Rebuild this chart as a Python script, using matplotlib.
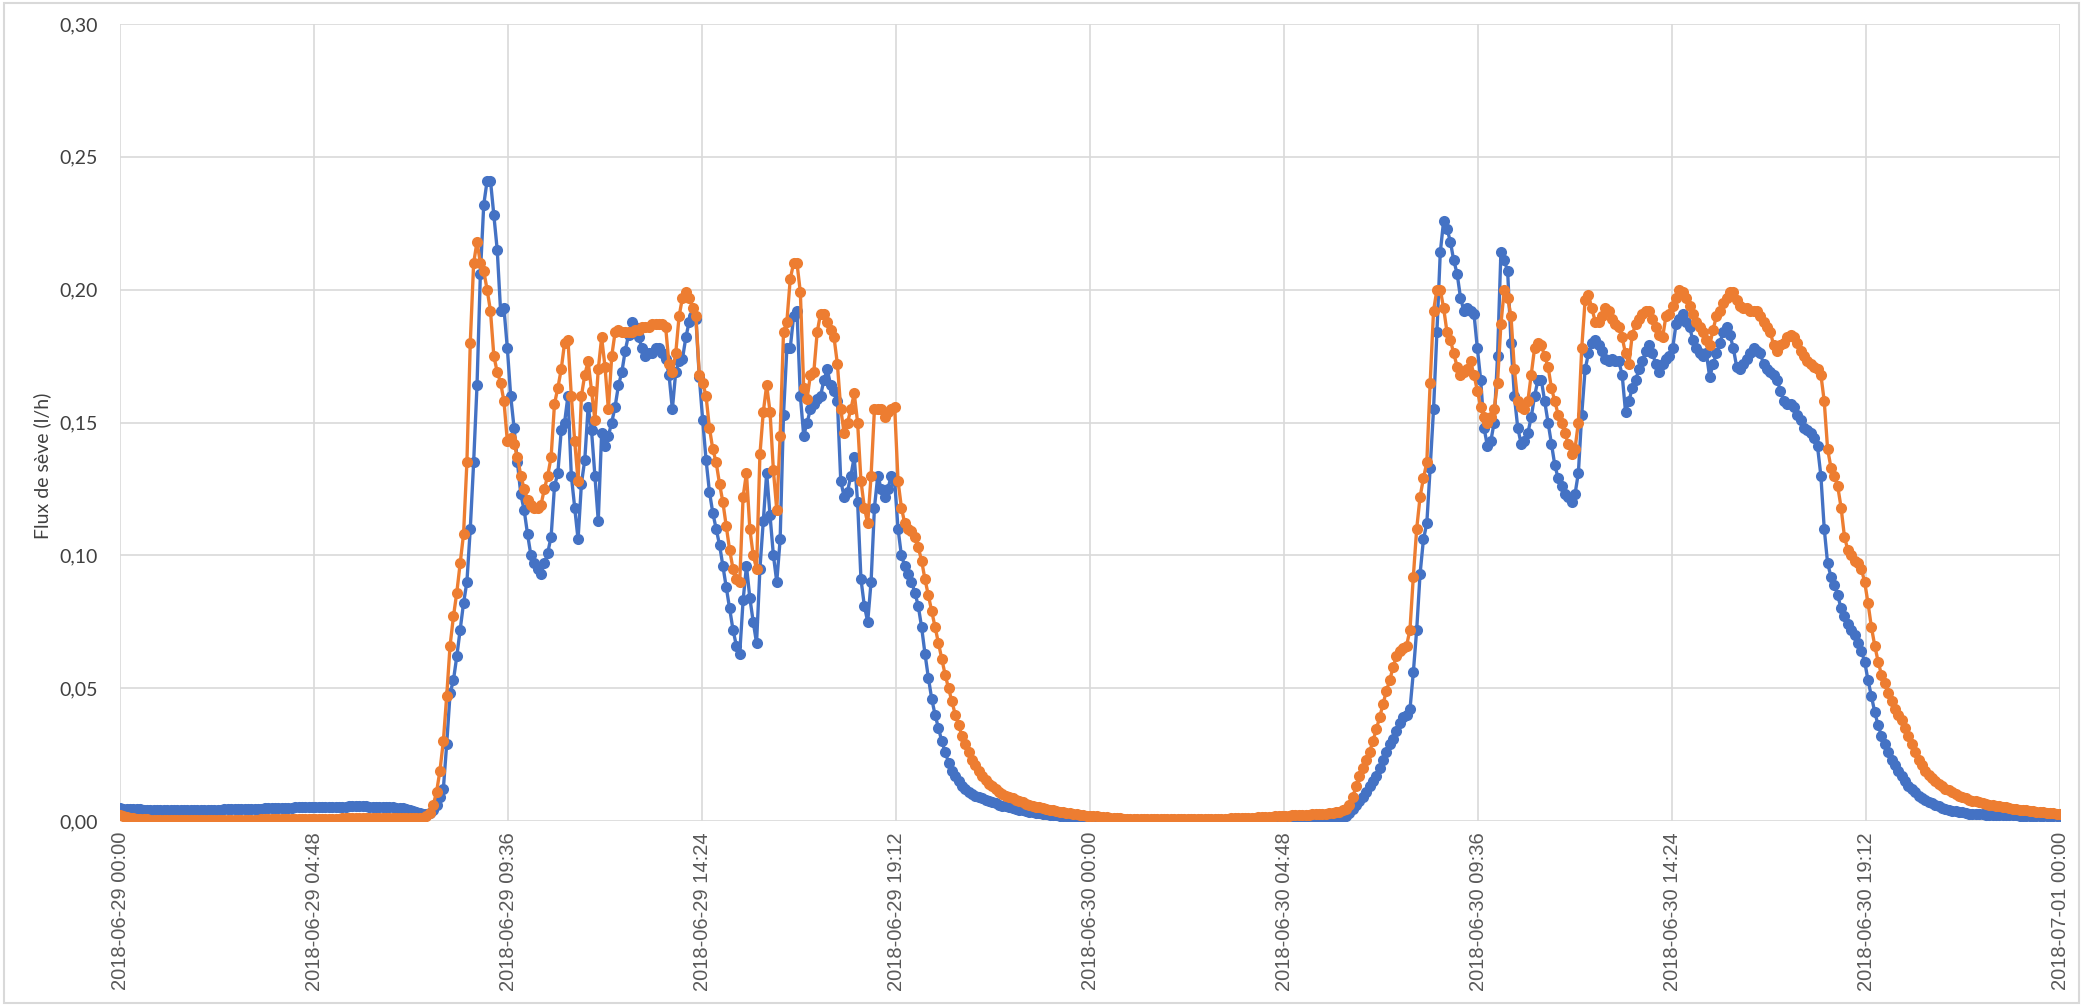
import pandas as pd
import matplotlib
matplotlib.use("Agg")
import matplotlib.pyplot as plt
import matplotlib.dates as mdates
from matplotlib.ticker import FixedLocator, FuncFormatter
from matplotlib.patches import Rectangle

# sap flow readings, one every 5 min from 2018-06-29 00:00 to 2018-07-01 00:00
# (12 values per line = one hour)
start = "2018-06-29 00:00"
end = "2018-07-01 00:00"
step = "5min"

blue_flux = [
    0.0048, 0.0047, 0.0046, 0.0045, 0.0045, 0.0044, 0.0044, 0.0043, 0.0043, 0.0042, 0.0042, 0.0041,  # 00h
    0.0041, 0.0041, 0.0040, 0.0040, 0.0040, 0.0040, 0.0040, 0.0040, 0.0041, 0.0041, 0.0041, 0.0041,
    0.0041, 0.0042, 0.0042, 0.0042, 0.0043, 0.0043, 0.0043, 0.0044, 0.0044, 0.0044, 0.0045, 0.0045,
    0.0045, 0.0046, 0.0046, 0.0046, 0.0047, 0.0047, 0.0047, 0.0048, 0.0048, 0.0048, 0.0049, 0.0049,
    0.0049, 0.0050, 0.0050, 0.0050, 0.0051, 0.0051, 0.0051, 0.0052, 0.0052, 0.0052, 0.0052, 0.0053,
    0.0053, 0.0053, 0.0053, 0.0054, 0.0054, 0.0054, 0.0054, 0.0054, 0.0055, 0.0055, 0.0055, 0.0055,
    0.0055, 0.0055, 0.0054, 0.0054, 0.0054, 0.0053, 0.0053, 0.0052, 0.0052, 0.0051, 0.0050, 0.0049,
    0.0048, 0.0046, 0.0043, 0.0039, 0.0035, 0.0031, 0.0028, 0.0027, 0.0030, 0.0040, 0.0060, 0.0090,
    0.012, 0.029, 0.048, 0.053, 0.062, 0.072, 0.082, 0.090, 0.110, 0.135, 0.164, 0.206,  # 08h
    0.232, 0.241, 0.241, 0.228, 0.215, 0.192, 0.193, 0.178, 0.160, 0.148, 0.135, 0.123,
    0.117, 0.108, 0.100, 0.097, 0.095, 0.093, 0.097, 0.101, 0.107, 0.126, 0.131, 0.147,
    0.150, 0.160, 0.130, 0.118, 0.106, 0.127, 0.136, 0.156, 0.147, 0.130, 0.113, 0.146,
    0.141, 0.145, 0.150, 0.156, 0.164, 0.169, 0.177, 0.183, 0.188, 0.186, 0.182, 0.178,  # 12h
    0.175, 0.176, 0.176, 0.178, 0.178, 0.176, 0.174, 0.168, 0.155, 0.169, 0.173, 0.174,
    0.182, 0.188, 0.190, 0.189, 0.167, 0.151, 0.136, 0.124, 0.116, 0.110, 0.104, 0.096,
    0.088, 0.080, 0.072, 0.066, 0.063, 0.083, 0.096, 0.084, 0.075, 0.067, 0.095, 0.113,
    0.131, 0.115, 0.100, 0.090, 0.106, 0.153, 0.178, 0.178, 0.190, 0.192, 0.160, 0.145,  # 16h
    0.150, 0.155, 0.157, 0.159, 0.160, 0.166, 0.170, 0.164, 0.162, 0.158, 0.128, 0.122,
    0.124, 0.130, 0.137, 0.120, 0.091, 0.081, 0.075, 0.090, 0.118, 0.130, 0.125, 0.122,
    0.125, 0.130, 0.128, 0.110, 0.100, 0.096, 0.093, 0.090, 0.086, 0.081, 0.073, 0.063,
    0.054, 0.046, 0.040, 0.035, 0.030, 0.026, 0.022, 0.019, 0.017, 0.015, 0.013, 0.012,  # 20h
    0.0110, 0.0100, 0.0095, 0.0090, 0.0085, 0.0080, 0.0075, 0.0070, 0.0066, 0.0062, 0.0058, 0.0055,
    0.0052, 0.0049, 0.0046, 0.0043, 0.0040, 0.0038, 0.0035, 0.0033, 0.0031, 0.0029, 0.0027, 0.0025,
    0.0024, 0.0022, 0.0021, 0.0020, 0.0018, 0.0017, 0.0016, 0.0015, 0.0014, 0.0013, 0.0012, 0.0011,
    0.0011, 0.0010, 0.0009, 0.0008, 0.0008, 0.0007, 0.0006, 0.0006, 0.0005, 0.0005, 0.0005, 0.0004,  # 30/06 00h
    0.0004, 0.0004, 0.0004, 0.0004, 0.0004, 0.0004, 0.0004, 0.0004, 0.0004, 0.0004, 0.0004, 0.0004,
    0.0003, 0.0003, 0.0003, 0.0003, 0.0003, 0.0003, 0.0003, 0.0003, 0.0003, 0.0003, 0.0003, 0.0003,
    0.0003, 0.0003, 0.0003, 0.0003, 0.0003, 0.0003, 0.0003, 0.0003, 0.0003, 0.0003, 0.0003, 0.0003,
    0.0003, 0.0003, 0.0003, 0.0003, 0.0003, 0.0003, 0.0004, 0.0004, 0.0004, 0.0004, 0.0004, 0.0004,
    0.0004, 0.0004, 0.0005, 0.0005, 0.0005, 0.0006, 0.0006, 0.0006, 0.0007, 0.0007, 0.0007, 0.0008,
    0.0008, 0.0010, 0.0012, 0.0015, 0.0020, 0.0030, 0.0045, 0.0060, 0.0075, 0.0090, 0.0110, 0.0130,
    0.015, 0.017, 0.020, 0.023, 0.026, 0.029, 0.031, 0.034, 0.037, 0.039, 0.040, 0.042,
    0.056, 0.072, 0.093, 0.106, 0.112, 0.133, 0.155, 0.184, 0.214, 0.226, 0.223, 0.218,  # 08h
    0.211, 0.206, 0.197, 0.192, 0.193, 0.192, 0.191, 0.178, 0.166, 0.148, 0.141, 0.143,
    0.150, 0.175, 0.214, 0.211, 0.207, 0.180, 0.160, 0.148, 0.142, 0.143, 0.146, 0.152,
    0.160, 0.166, 0.166, 0.158, 0.150, 0.142, 0.134, 0.129, 0.126, 0.123, 0.122, 0.120,
    0.123, 0.131, 0.153, 0.170, 0.176, 0.180, 0.181, 0.179, 0.177, 0.174, 0.173, 0.174,  # 12h
    0.173, 0.173, 0.168, 0.154, 0.158, 0.163, 0.166, 0.170, 0.173, 0.177, 0.179, 0.176,
    0.172, 0.169, 0.172, 0.174, 0.175, 0.178, 0.187, 0.189, 0.191, 0.188, 0.186, 0.181,
    0.178, 0.176, 0.175, 0.176, 0.167, 0.172, 0.176, 0.180, 0.184, 0.186, 0.183, 0.178,
    0.171, 0.170, 0.172, 0.174, 0.176, 0.178, 0.177, 0.176, 0.172, 0.170, 0.169, 0.168,  # 16h
    0.166, 0.162, 0.158, 0.157, 0.157, 0.156, 0.153, 0.151, 0.148, 0.147, 0.146, 0.144,
    0.141, 0.130, 0.110, 0.097, 0.092, 0.089, 0.085, 0.080, 0.077, 0.074, 0.072, 0.070,
    0.067, 0.064, 0.060, 0.053, 0.047, 0.041, 0.036, 0.032, 0.029, 0.026, 0.023, 0.021,
    0.0190, 0.0170, 0.0150, 0.0130, 0.0120, 0.0110, 0.0095, 0.0085, 0.0078, 0.0072, 0.0066, 0.0060,  # 20h
    0.0055, 0.0050, 0.0046, 0.0042, 0.0039, 0.0036, 0.0034, 0.0032, 0.0030, 0.0028, 0.0027, 0.0026,
    0.0025, 0.0025, 0.0024, 0.0024, 0.0023, 0.0023, 0.0022, 0.0022, 0.0022, 0.0021, 0.0021, 0.0021,
    0.0020, 0.0020, 0.0020, 0.0020, 0.0019, 0.0019, 0.0019, 0.0019, 0.0018, 0.0018, 0.0018, 0.0018,
    0.0018,
]

orange_flux = [
    0.0022, 0.0019, 0.0016, 0.0013, 0.0011, 0.0009, 0.0008, 0.0007, 0.0006, 0.0005, 0.0005, 0.0004,  # 00h
    0.0004, 0.0004, 0.0004, 0.0004, 0.0003, 0.0003, 0.0003, 0.0003, 0.0003, 0.0003, 0.0003, 0.0003,
    0.0003, 0.0003, 0.0003, 0.0004, 0.0004, 0.0004, 0.0004, 0.0004, 0.0004, 0.0004, 0.0005, 0.0005,
    0.0005, 0.0005, 0.0005, 0.0005, 0.0005, 0.0005, 0.0006, 0.0006, 0.0006, 0.0006, 0.0006, 0.0006,
    0.0007, 0.0007, 0.0007, 0.0007, 0.0007, 0.0007, 0.0008, 0.0008, 0.0008, 0.0008, 0.0008, 0.0008,
    0.0009, 0.0009, 0.0009, 0.0009, 0.0009, 0.0009, 0.0010, 0.0010, 0.0010, 0.0010, 0.0010, 0.0010,
    0.0011, 0.0011, 0.0011, 0.0011, 0.0011, 0.0011, 0.0012, 0.0012, 0.0012, 0.0012, 0.0012, 0.0012,
    0.0012, 0.0012, 0.0011, 0.0010, 0.0010, 0.0011, 0.0013, 0.0018, 0.0030, 0.0060, 0.0110, 0.0190,
    0.030, 0.047, 0.066, 0.077, 0.086, 0.097, 0.108, 0.135, 0.180, 0.210, 0.218, 0.210,  # 08h
    0.207, 0.200, 0.192, 0.175, 0.169, 0.165, 0.158, 0.143, 0.144, 0.142, 0.137, 0.130,
    0.125, 0.121, 0.119, 0.118, 0.118, 0.119, 0.125, 0.130, 0.137, 0.157, 0.163, 0.170,
    0.180, 0.181, 0.160, 0.143, 0.128, 0.160, 0.168, 0.173, 0.162, 0.151, 0.170, 0.182,
    0.171, 0.155, 0.175, 0.184, 0.185, 0.184, 0.184, 0.184, 0.184, 0.185, 0.185, 0.186,  # 12h
    0.186, 0.186, 0.187, 0.187, 0.187, 0.187, 0.186, 0.172, 0.169, 0.176, 0.190, 0.197,
    0.199, 0.197, 0.193, 0.190, 0.168, 0.165, 0.160, 0.148, 0.140, 0.135, 0.127, 0.120,
    0.111, 0.102, 0.095, 0.091, 0.090, 0.122, 0.131, 0.110, 0.100, 0.095, 0.138, 0.154,
    0.164, 0.154, 0.132, 0.117, 0.145, 0.184, 0.188, 0.204, 0.210, 0.210, 0.199, 0.163,  # 16h
    0.159, 0.168, 0.169, 0.184, 0.191, 0.191, 0.188, 0.185, 0.182, 0.172, 0.155, 0.146,
    0.150, 0.155, 0.161, 0.150, 0.128, 0.118, 0.112, 0.130, 0.155, 0.155, 0.155, 0.152,
    0.154, 0.155, 0.156, 0.128, 0.118, 0.112, 0.110, 0.109, 0.107, 0.103, 0.098, 0.091,
    0.085, 0.079, 0.073, 0.067, 0.061, 0.055, 0.050, 0.045, 0.040, 0.036, 0.032, 0.029,  # 20h
    0.0260, 0.0230, 0.0210, 0.0190, 0.0170, 0.0155, 0.0140, 0.0130, 0.0120, 0.0110, 0.0100, 0.0095,
    0.0090, 0.0085, 0.0080, 0.0075, 0.0070, 0.0065, 0.0060, 0.0057, 0.0054, 0.0051, 0.0048, 0.0045,
    0.0042, 0.0040, 0.0037, 0.0035, 0.0033, 0.0031, 0.0029, 0.0027, 0.0025, 0.0023, 0.0022, 0.0020,
    0.0019, 0.0018, 0.0017, 0.0016, 0.0015, 0.0014, 0.0013, 0.0012, 0.0011, 0.0010, 0.0009, 0.0009,  # 30/06 00h
    0.0008, 0.0008, 0.0008, 0.0007, 0.0007, 0.0007, 0.0007, 0.0006, 0.0006, 0.0006, 0.0006, 0.0006,
    0.0006, 0.0006, 0.0006, 0.0006, 0.0006, 0.0007, 0.0007, 0.0007, 0.0007, 0.0007, 0.0007, 0.0008,
    0.0008, 0.0008, 0.0008, 0.0009, 0.0009, 0.0009, 0.0010, 0.0010, 0.0010, 0.0011, 0.0011, 0.0012,
    0.0013, 0.0013, 0.0014, 0.0014, 0.0015, 0.0016, 0.0016, 0.0017, 0.0018, 0.0018, 0.0019, 0.0020,
    0.0021, 0.0021, 0.0022, 0.0023, 0.0023, 0.0024, 0.0025, 0.0025, 0.0026, 0.0027, 0.0028, 0.0029,
    0.0030, 0.0032, 0.0035, 0.0040, 0.0045, 0.0060, 0.0090, 0.0130, 0.0170, 0.0200, 0.0230, 0.0260,
    0.030, 0.0345, 0.039, 0.044, 0.049, 0.053, 0.058, 0.062, 0.064, 0.065, 0.066, 0.072,
    0.092, 0.110, 0.122, 0.129, 0.135, 0.165, 0.192, 0.200, 0.200, 0.193, 0.184, 0.181,  # 08h
    0.176, 0.171, 0.168, 0.169, 0.170, 0.173, 0.168, 0.162, 0.156, 0.152, 0.150, 0.152,
    0.155, 0.165, 0.187, 0.200, 0.197, 0.190, 0.170, 0.158, 0.156, 0.155, 0.158, 0.168,
    0.178, 0.180, 0.179, 0.175, 0.171, 0.163, 0.158, 0.153, 0.150, 0.146, 0.142, 0.138,
    0.140, 0.150, 0.178, 0.196, 0.198, 0.193, 0.188, 0.188, 0.190, 0.193, 0.192, 0.189,  # 12h
    0.187, 0.186, 0.182, 0.176, 0.172, 0.183, 0.187, 0.189, 0.191, 0.192, 0.192, 0.189,
    0.186, 0.183, 0.182, 0.190, 0.191, 0.194, 0.197, 0.200, 0.199, 0.197, 0.194, 0.191,
    0.188, 0.186, 0.184, 0.181, 0.179, 0.185, 0.190, 0.192, 0.195, 0.197, 0.199, 0.199,
    0.196, 0.194, 0.193, 0.193, 0.192, 0.192, 0.192, 0.190, 0.188, 0.186, 0.184, 0.179,  # 16h
    0.177, 0.179, 0.180, 0.182, 0.183, 0.182, 0.180, 0.177, 0.175, 0.173, 0.172, 0.171,
    0.170, 0.168, 0.158, 0.140, 0.133, 0.130, 0.126, 0.118, 0.107, 0.102, 0.100, 0.098,
    0.097, 0.095, 0.090, 0.082, 0.073, 0.066, 0.060, 0.055, 0.052, 0.048, 0.045, 0.042,
    0.040, 0.038, 0.035, 0.032, 0.029, 0.026, 0.023, 0.021, 0.019, 0.0175, 0.016, 0.015,  # 20h
    0.0140, 0.0130, 0.0120, 0.0115, 0.0110, 0.0100, 0.0095, 0.0090, 0.0085, 0.0080, 0.0077, 0.0074,
    0.0071, 0.0068, 0.0065, 0.0062, 0.0060, 0.0057, 0.0055, 0.0053, 0.0051, 0.0049, 0.0047, 0.0045,
    0.0043, 0.0041, 0.0040, 0.0038, 0.0037, 0.0035, 0.0034, 0.0033, 0.0031, 0.0030, 0.0029, 0.0028,
    0.0027,
]

y_ticks = [0.00, 0.05, 0.10, 0.15, 0.20, 0.25, 0.30]
y_label = "Flux de sève (l/h)"

BLUE = "#4472C4"
ORANGE = "#ED7D31"
GRID = "#D9D9D9"
TEXT = "#595959"


def comma(v, pos=None):
    return ("%.2f" % v).replace(".", ",")


def main():
    times = pd.date_range(start, end, freq=step)
    ticks = pd.date_range(start, end, freq="288min")

    W, H = 2083, 1006
    fig = plt.figure(figsize=(W / 100, H / 100), dpi=100)
    ax = fig.add_axes([120 / W, 1 - 821 / H, 1940 / W, 797 / H])

    for vals, col in [(blue_flux, BLUE), (orange_flux, ORANGE)]:
        ax.plot(times, vals, color=col, lw=2.4, marker="o", ms=8,
                mew=0, solid_joinstyle="round", zorder=3)

    ax.set_xlim(times[0], times[-1])
    ax.set_ylim(0, 0.30)
    ax.set_yticks(y_ticks)
    ax.yaxis.set_major_formatter(FuncFormatter(comma))
    ax.xaxis.set_major_locator(FixedLocator(mdates.date2num(ticks)))
    ax.xaxis.set_major_formatter(mdates.DateFormatter("%Y-%m-%d %H:%M"))

    ax.grid(True, color=GRID, lw=1.2, zorder=0)
    ax.set_axisbelow(True)
    for s in ax.spines.values():
        s.set_visible(False)
    ax.tick_params(length=0)
    ax.tick_params(axis="x", labelrotation=90, pad=8, labelsize=14.5, colors=TEXT)
    ax.tick_params(axis="y", pad=16, labelsize=14, colors="#404040")
    for lab in ax.get_xticklabels():
        lab.set_fontfamily("Liberation Sans")
    for lab in ax.get_yticklabels():
        lab.set_fontfamily("Lato")

    fig.text(42 / W, 1 - 466 / H, y_label, rotation=90, ha="center", va="center",
             fontsize=14, color="#404040", family="Lato")

    # thin frame round the chart area
    fig.patches.append(Rectangle((0.002, 0.003), 0.996, 0.994, transform=fig.transFigure,
                                 fill=False, edgecolor=GRID, lw=1.5))

    fig.savefig("out.png", dpi=100)
    plt.close(fig)


if __name__ == "__main__":
    main()
